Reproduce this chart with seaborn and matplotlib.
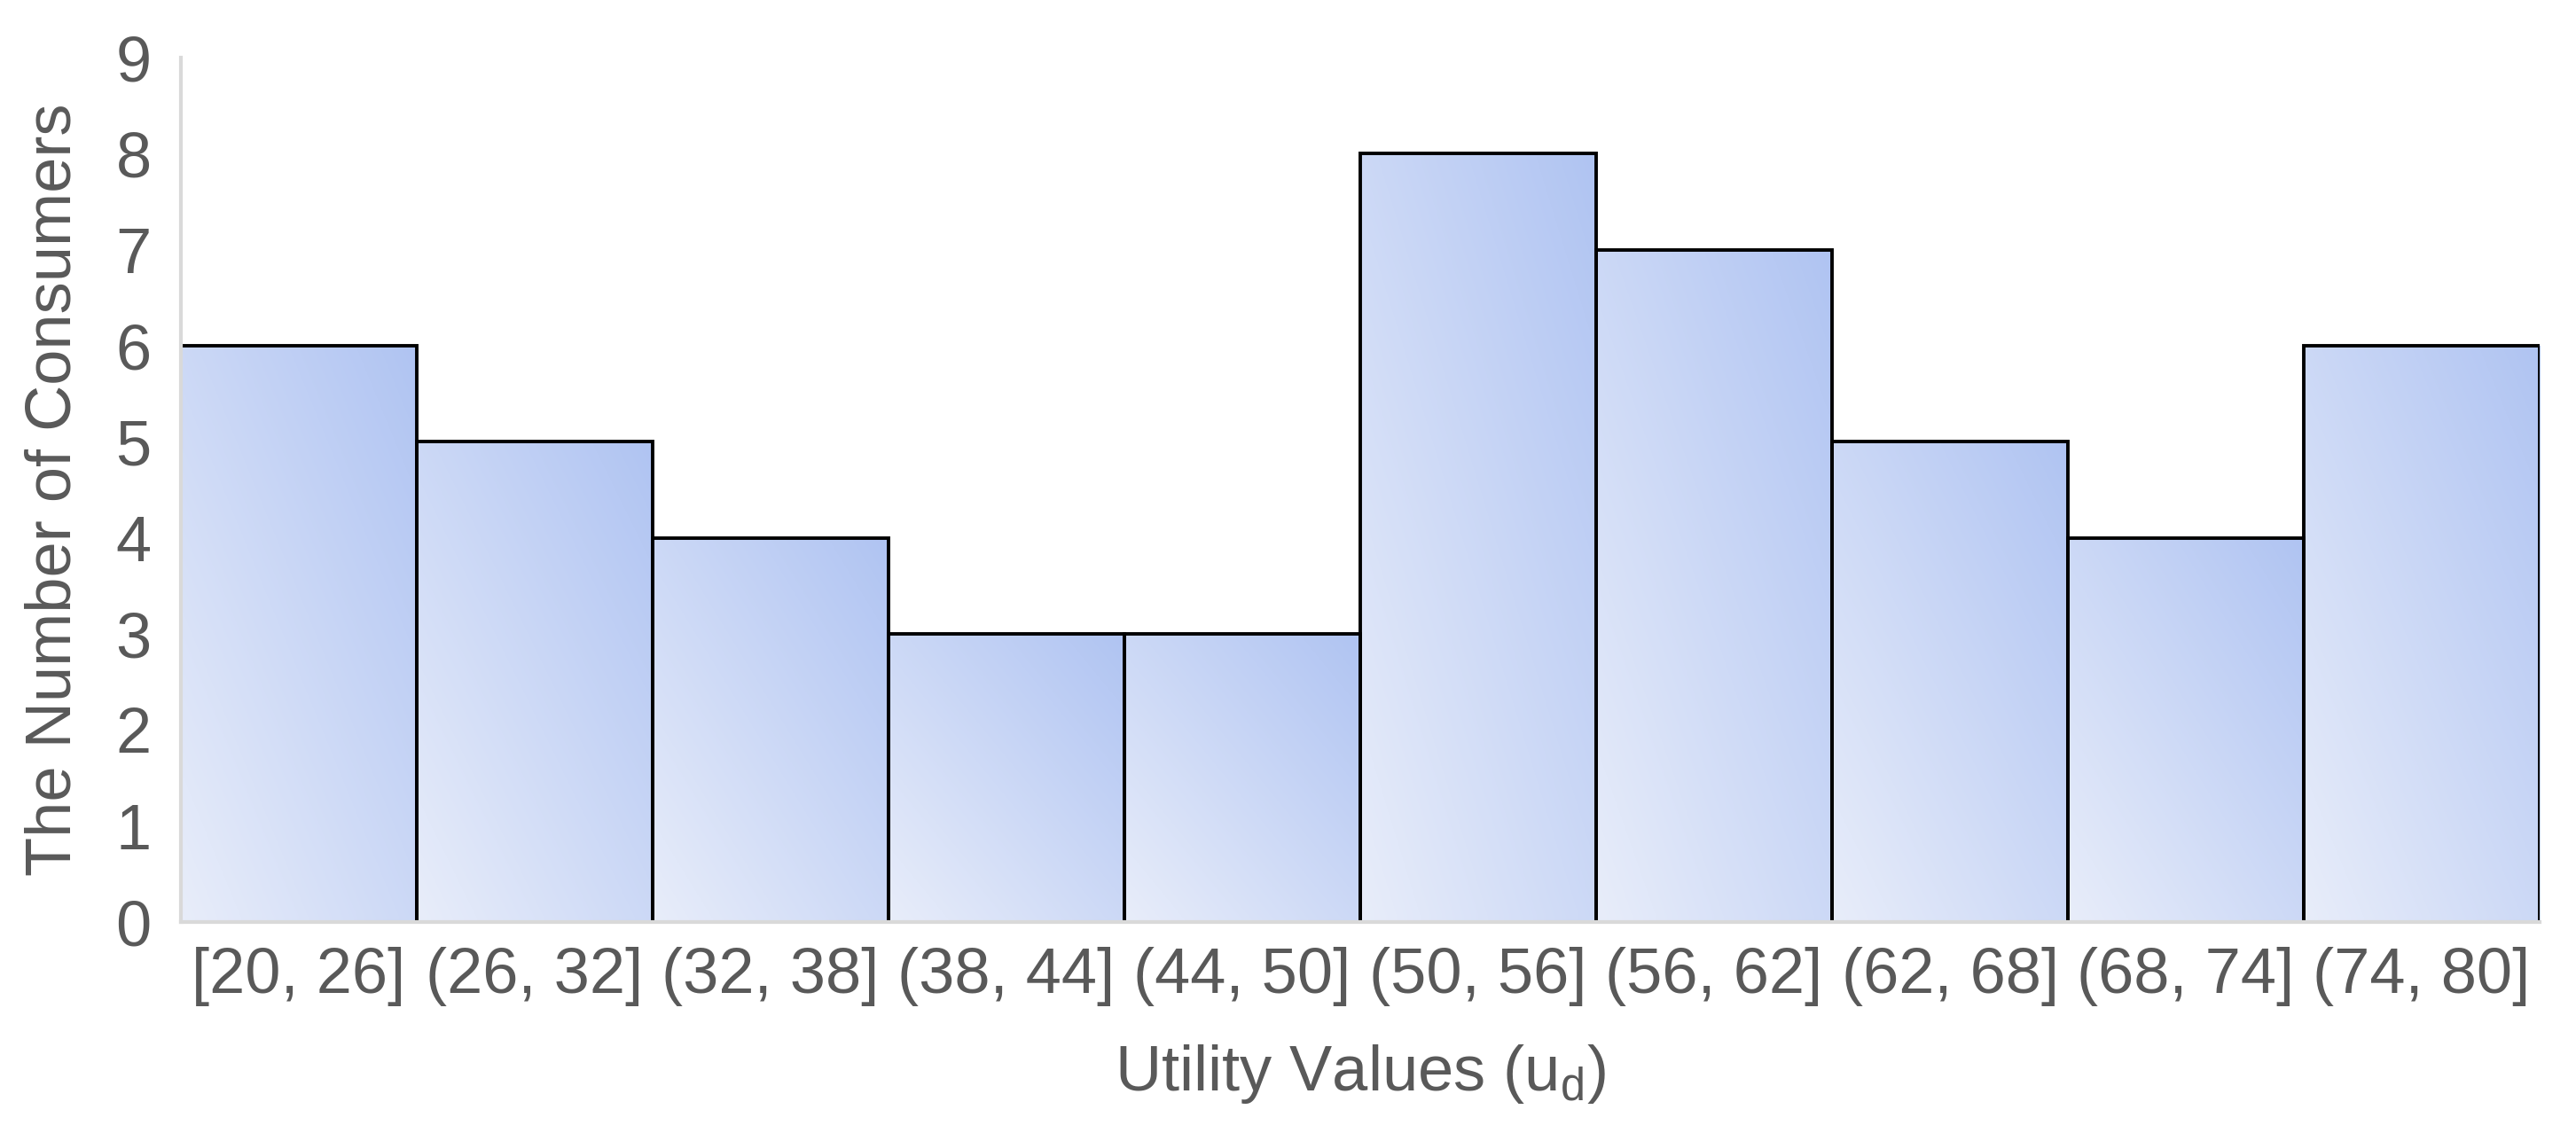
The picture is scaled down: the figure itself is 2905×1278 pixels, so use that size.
import numpy as np
import pandas as pd
import seaborn as sns
import matplotlib.pyplot as plt
from matplotlib.colors import LinearSegmentedColormap

# data
intervals = ["[20, 26]", "(26, 32]", "(32, 38]", "(38, 44]", "(44, 50]",
             "(50, 56]", "(56, 62]", "(62, 68]", "(68, 74]", "(74, 80]"]
consumers = [6, 5, 4, 3, 3, 8, 7, 5, 4, 6]
y_ticks = list(range(0, 10))

df = pd.DataFrame({"interval": intervals, "count": consumers})

sns.set_style("white")
plt.rcParams["font.family"] = ["Liberation Sans", "DejaVu Sans"]
plt.rcParams["mathtext.fontset"] = "custom"
plt.rcParams["mathtext.rm"] = "Liberation Sans"

text_col = "#595959"

fig = plt.figure(figsize=(29.05, 12.78), dpi=100)
ax = fig.add_axes([0.0702, 0.1862, 0.9157, 0.7629])

sns.barplot(data=df, x="interval", y="count", color="#c8d6f5",
            width=1.0, edgecolor="black", linewidth=2.8, ax=ax, zorder=2)

# diagonal gradient inside each bar (light bottom-left -> blue top-right)
grad_cmap = LinearSegmentedColormap.from_list("bar_grad", ["#e8edfa", "#b0c4f2"])
u, v = np.meshgrid(np.linspace(0, 1, 64), np.linspace(0, 1, 64))
grad = (u + v) / 2
for p in ax.patches:
    x0, y0 = p.get_x(), p.get_y()
    w, h = p.get_width(), p.get_height()
    im = ax.imshow(grad, cmap=grad_cmap, vmin=0, vmax=1, origin="lower",
                   extent=[x0, x0 + w, y0, y0 + h], aspect="auto",
                   interpolation="bilinear", zorder=2.5)
    im.set_clip_path(p)
    p.set_facecolor("none")
    p.set_zorder(3)

ax.set_xlim(-0.5, len(intervals) - 0.5)
ax.set_ylim(0, 9)
ax.set_yticks(y_ticks)

for side in ["top", "right"]:
    ax.spines[side].set_visible(False)
for side in ["left", "bottom"]:
    ax.spines[side].set_color("#d9d9d9")
    ax.spines[side].set_linewidth(3.0)
    ax.spines[side].set_zorder(4)

ax.tick_params(axis="both", length=0, labelsize=52, colors=text_col)
ax.tick_params(axis="y", pad=24)
ax.tick_params(axis="x", pad=20)

ax.set_xlabel(r"Utility Values (u$_\mathregular{d}$)", fontsize=52,
              color=text_col, labelpad=30)
ax.set_ylabel("The Number of Consumers", fontsize=52, color=text_col,
              labelpad=26)

fig.savefig("out.png", dpi=100)
